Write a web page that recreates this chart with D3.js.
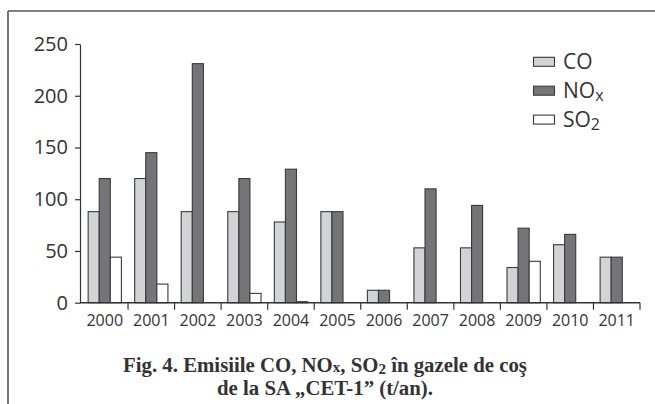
<!DOCTYPE html>
<html>
<head>
<meta charset="utf-8">
<script src="https://cdn.jsdelivr.net/npm/d3@7"></script>
<style>
  html, body { margin: 0; padding: 0; background: #fff; }
  svg { display: block; }
</style>
</head>
<body>
<svg id="chart" width="655" height="404"></svg>
<script>
// ---- data ----
const years = ["2000","2001","2002","2003","2004","2005","2006","2007","2008","2009","2010","2011"];
const seriesKeys = ["CO", "NOx", "SO2"];
const coValues  = [88, 120, 88, 88, 78, 88, 12, 53, 53, 34, 56, 44];
const noxValues = [120, 145, 231, 120, 129, 88, 12, 110, 94, 72, 66, 44];
const so2Values = [44, 18, 0, 9, 1, 0, 0, 0, 0, 40, 0, 0];
const yTicks = [0, 50, 100, 150, 200, 250];

const seriesValues = { CO: coValues, NOx: noxValues, SO2: so2Values };
const colors = { CO: "#d2d3d7", NOx: "#757579", SO2: "#ffffff" };

const svg = d3.select("#chart");
const x0 = 81.5, x1 = 640, yBase = 302.7, yTop = 44;

const x = d3.scaleBand().domain(years).range([x0, x1]).paddingInner(0).paddingOuter(0);
const xs = d3.scaleBand().domain(seriesKeys).range([0, x.bandwidth()]).paddingInner(0).paddingOuter(0.6);
const y = d3.scaleLinear().domain([0, 250]).range([yBase, yTop]);

// frame lines
svg.append("line").attr("x1", 8).attr("x2", 655).attr("y1", 11).attr("y2", 11)
  .attr("stroke", "#555").attr("stroke-width", 1.6);
svg.append("line").attr("x1", 8).attr("x2", 8).attr("y1", 11).attr("y2", 404)
  .attr("stroke", "#555").attr("stroke-width", 1.6);

// bars
const rows = years.map((yr, i) => ({ year: yr, vals: seriesKeys.map(k => ({ key: k, value: seriesValues[k][i] })) }));
const groups = svg.append("g").selectAll("g").data(rows).join("g")
  .attr("transform", d => `translate(${x(d.year)},0)`);
groups.selectAll("rect").data(d => d.vals.filter(v => v.value > 0)).join("rect")
  .attr("x", d => xs(d.key))
  .attr("width", xs.bandwidth())
  .attr("y", d => y(d.value))
  .attr("height", d => yBase - y(d.value))
  .attr("fill", d => colors[d.key])
  .attr("stroke", "#3a3a3a")
  .attr("stroke-width", 1.1);

// y axis
const yAxis = d3.axisLeft(y).tickValues(yTicks).tickSize(5).tickPadding(7).tickSizeOuter(0);
const gy = svg.append("g").attr("transform", `translate(80,0)`).call(yAxis);
gy.select(".domain").attr("stroke", "#333").attr("stroke-width", 1.2);
gy.selectAll(".tick line").attr("stroke", "#333").attr("stroke-width", 1.2);
gy.selectAll(".tick text").attr("font-family", "'Open Sans', sans-serif").attr("font-size", 20).attr("fill", "#333");

// x axis
svg.append("line").attr("x1", 80).attr("x2", x1).attr("y1", yBase).attr("y2", yBase)
  .attr("stroke", "#333").attr("stroke-width", 1.4);
svg.append("g").selectAll("line").data(years.slice(1).concat(["end"])).join("line")
  .attr("x1", d => d === "end" ? x1 : x(d))
  .attr("x2", d => d === "end" ? x1 : x(d))
  .attr("y1", yBase).attr("y2", yBase + 7)
  .attr("stroke", "#333").attr("stroke-width", 1.2);
svg.append("g").selectAll("text").data(years).join("text")
  .attr("x", d => x(d) + x.bandwidth() / 2)
  .attr("y", 325.5)
  .attr("text-anchor", "middle")
  .attr("font-family", "'Open Sans', sans-serif")
  .attr("font-size", 16)
  .attr("fill", "#333")
  .text(d => d);

// legend
const legendLabels = [
  { key: "CO", main: "CO", sub: "" },
  { key: "NOx", main: "NO", sub: "x" },
  { key: "SO2", main: "SO", sub: "2" }
];
const lg = svg.append("g").selectAll("g").data(legendLabels).join("g")
  .attr("transform", (d, i) => `translate(533.5,${57.3 + i * 28.9})`);
lg.append("rect").attr("width", 21).attr("height", 9)
  .attr("fill", d => colors[d.key]).attr("stroke", "#3a3a3a").attr("stroke-width", 1.1);
const lt = lg.append("text").attr("x", 29.5).attr("y", 11.5)
  .attr("font-family", "'Open Sans', sans-serif").attr("font-size", 21).attr("fill", "#333");
lt.append("tspan").text(d => d.main);
lt.append("tspan").attr("font-size", 16).attr("dy", 3).text(d => d.sub);

// title
const t1 = svg.append("text").attr("x", 325).attr("y", 372).attr("text-anchor", "middle")
  .attr("font-family", "'Liberation Serif', serif").attr("font-weight", "bold")
  .attr("font-size", 20.8).attr("fill", "#333");
t1.append("tspan").text("Fig. 4. Emisiile CO, NO");
t1.append("tspan").attr("font-size", 15).text("x");
t1.append("tspan").text(", SO");
t1.append("tspan").attr("font-size", 15).attr("dy", 2).text("2");
t1.append("tspan").attr("dy", -2).text(" în gazele de coş");

svg.append("text").attr("x", 325).attr("y", 395).attr("text-anchor", "middle")
  .attr("font-family", "'Liberation Serif', serif").attr("font-weight", "bold")
  .attr("font-size", 20.8).attr("fill", "#333")
  .text("de la SA „CET-1” (t/an).");
</script>
</body>
</html>
